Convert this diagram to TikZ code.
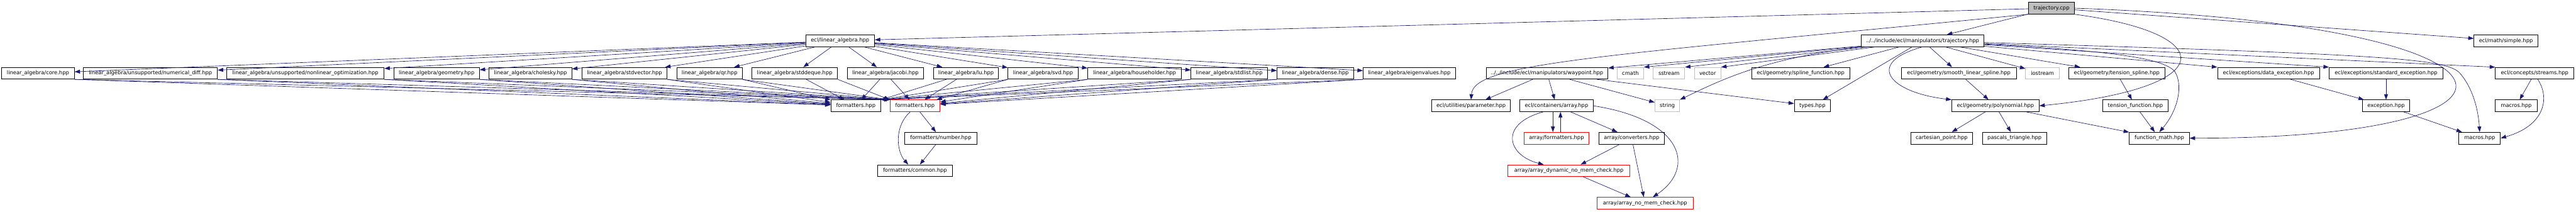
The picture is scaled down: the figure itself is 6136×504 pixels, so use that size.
\documentclass[tikz,border=0pt]{standalone}
\usepackage{fontspec}
\setmainfont{DejaVu Sans}
\usepackage{tikz}
\usetikzlibrary{arrows.meta}
\definecolor{edgeblue}{RGB}{25,25,112}
\definecolor{sysgray}{RGB}{191,191,191}
\tikzset{
  fb/.style  ={draw=black, line width=0.6pt, inner sep=0pt, minimum height=14pt,
               minimum width=#1*0.5pt, font=\fontsize{6.25pt}{7pt}\selectfont},
  fs/.style  ={fb=#1, draw=sysgray},
  fr/.style  ={fb=#1, draw=red},
  fc/.style  ={fb=#1, fill=sysgray},
  dep/.style ={draw=edgeblue, line width=0.5pt, -{Triangle[length=6.5pt,width=4.6pt]}},
}
\begin{document}
\begin{tikzpicture}[x=0.5pt,y=-0.5pt]
  \useasboundingbox (0,0) rectangle (6136,504);
  % row 0 and 1
  \node[fc=109] (tcpp) at (4886.5,19.5) {trajectory.cpp};
  \node[fb=164] (la) at (2001,97) {ecl/linear\_algebra.hpp};
  \node[fb=293] (trajh) at (4579.5,97) {../../include/ecl/manipulators/trajectory.hpp};
  \node[fb=152] (simple) at (5969,97) {ecl/math/simple.hpp};
  % row 2
  \node[fb=173] (core) at (90.5,174.5) {linear\_algebra/core.hpp};
  \node[fb=319] (numdiff) at (358.5,174.5) {linear\_algebra/unsupported/numerical\_diff.hpp};
  \node[fb=375] (nonlin) at (727.5,174.5) {linear\_algebra/unsupported/nonlinear\_optimization.hpp};
  \node[fb=204] (geom) at (1040,174.5) {linear\_algebra/geometry.hpp};
  \node[fb=197] (chol) at (1263.5,174.5) {linear\_algebra/cholesky.hpp};
  \node[fb=203] (stdvec) at (1487.5,174.5) {linear\_algebra/stdvector.hpp};
  \node[fb=156] (qr) at (1690,174.5) {linear\_algebra/qr.hpp};
  \node[fb=204] (stddeq) at (1893,174.5) {linear\_algebra/stddeque.hpp};
  \node[fb=182] (jacobi) at (2109,174.5) {linear\_algebra/jacobi.hpp};
  \node[fb=154] (lu) at (2301,174.5) {linear\_algebra/lu.hpp};
  \node[fb=167] (svd) at (2484.5,174.5) {linear\_algebra/svd.hpp};
  \node[fb=223] (house) at (2702.5,174.5) {linear\_algebra/householder.hpp};
  \node[fb=182] (stdlist) at (2928,174.5) {linear\_algebra/stdlist.hpp};
  \node[fb=182] (dense) at (3133,174.5) {linear\_algebra/dense.hpp};
  \node[fb=220] (eigen) at (3357,174.5) {linear\_algebra/eigenvalues.hpp};
  \node[fb=290] (waypt) at (3685,174.5) {../../include/ecl/manipulators/waypoint.hpp};
  \node[fs=63] (cmath) at (3883.5,174.5) {cmath};
  \node[fs=75] (sstream) at (3975.5,174.5) {sstream};
  \node[fs=63] (vector) at (4067.5,174.5) {vector};
  \node[fb=234] (splinef) at (4289,174.5) {ecl/geometry/spline\_function.hpp};
  \node[fb=274] (smooth) at (4666,174.5) {ecl/geometry/smooth\_linear\_spline.hpp};
  \node[fs=80] (iostream) at (4865,174.5) {iostream};
  \node[fb=230] (tension) at (5042,174.5) {ecl/geometry/tension\_spline.hpp};
  \node[fb=243] (dataex) at (5403.5,174.5) {ecl/exceptions/data\_exception.hpp};
  \node[fb=271] (stdex) at (5683.5,174.5) {ecl/exceptions/standard\_exception.hpp};
  \node[fb=187] (streams) at (6037.5,174.5) {ecl/concepts/streams.hpp};
  % row 3
  \node[fb=119] (fmtA) at (2038.5,252) {formatters.hpp};
  \node[fr=119] (fmtB) at (2179.5,252) {formatters.hpp};
  \node[fb=188] (param) at (3504,252) {ecl/utilities/parameter.hpp};
  \node[fb=175] (array) at (3707.5,252) {ecl/containers/array.hpp};
  \node[fs=59] (string) at (3971.5,252) {string};
  \node[fb=86] (types) at (4317,252) {types.hpp};
  \node[fb=208] (poly) at (4753,252) {ecl/geometry/polynomial.hpp};
  \node[fb=155] (tensfn) at (5086.5,252) {tension\_function.hpp};
  \node[fb=113] (except) at (5683.5,252) {exception.hpp};
  \node[fb=99] (macrosA) at (5993.5,252) {macros.hpp};
  % row 4
  \node[fb=172] (number) at (2241,329) {formatters/number.hpp};
  \node[fr=155] (afmt) at (3707.5,329) {array/formatters.hpp};
  \node[fb=155] (aconv) at (3886.5,329) {array/converters.hpp};
  \node[fb=148] (cart) at (4625,329) {cartesian\_point.hpp};
  \node[fb=153] (pascal) at (4798.5,329) {pascals\_triangle.hpp};
  \node[fb=143] (fmath) at (5143.5,329) {function\_math.hpp};
  \node[fb=99] (macrosB) at (5906.5,329) {macros.hpp};
  % row 5 and 6
  \node[fb=179] (common) at (2179.5,406.5) {formatters/common.hpp};
  \node[fr=290] (adyn) at (3737,406.5) {array/array\_dynamic\_no\_mem\_check.hpp};
  \node[fr=229] (anomem) at (3918.5,484) {array/array\_no\_mem\_check.hpp};

  % trajectory.cpp
  \draw[dep] (tcpp) -- (la);
  \draw[dep] (tcpp) -- (trajh);
  \draw[dep] (tcpp) -- (simple);
  \draw[dep] (tcpp.south west) .. controls (3800,135) and (3510,150) .. (param.north);
  \draw[dep] (tcpp.south east) .. controls (5290,80) and (5290,210) .. (poly.east);
  \draw[dep] (tcpp.east) .. controls (6100,60) and (6100,330) .. (fmath.east);
  % linear_algebra.hpp
  \draw[dep] (la) -- (core);
  \draw[dep] (la) -- (numdiff);
  \draw[dep] (la) -- (nonlin);
  \draw[dep] (la) -- (geom);
  \draw[dep] (la) -- (chol);
  \draw[dep] (la) -- (stdvec);
  \draw[dep] (la) -- (qr);
  \draw[dep] (la) -- (stddeq);
  \draw[dep] (la) -- (jacobi);
  \draw[dep] (la) -- (lu);
  \draw[dep] (la) -- (svd);
  \draw[dep] (la) -- (house);
  \draw[dep] (la) -- (stdlist);
  \draw[dep] (la) -- (dense);
  \draw[dep] (la) -- (eigen);
  % linear_algebra/* to the formatters
  \draw[dep] (core.south east) -- (fmtA);
  \draw[dep] (core.south east) -- (fmtB.north west);
  \draw[dep] (numdiff.south east) -- (fmtA);
  \draw[dep] (numdiff.south east) -- (fmtB.north west);
  \draw[dep] (nonlin.south east) -- (fmtA);
  \draw[dep] (nonlin.south east) -- (fmtB.north west);
  \draw[dep] (geom.south east) -- (fmtA);
  \draw[dep] (geom.south east) -- (fmtB.north west);
  \draw[dep] (chol.south east) -- (fmtA);
  \draw[dep] (chol.south east) -- (fmtB.north west);
  \draw[dep] (stdvec.south east) -- (fmtA);
  \draw[dep] (stdvec.south east) -- (fmtB.north west);
  \draw[dep] (qr.south east) -- (fmtA);
  \draw[dep] (qr.south east) -- (fmtB.north west);
  \draw[dep] (stddeq) -- (fmtA);
  \draw[dep] (stddeq.south east) -- (fmtB.north west);
  \draw[dep] (jacobi) -- (fmtA);
  \draw[dep] (jacobi) -- (fmtB);
  \draw[dep] (lu) -- (fmtA.north east);
  \draw[dep] (lu) -- (fmtB);
  \draw[dep] (svd.south west) -- (fmtA.north east);
  \draw[dep] (svd.south west) -- (fmtB);
  \draw[dep] (house.south west) -- (fmtA.north east);
  \draw[dep] (house.south west) -- (fmtB);
  \draw[dep] (stdlist.south west) -- (fmtA.north east);
  \draw[dep] (stdlist.south west) -- (fmtB);
  \draw[dep] (dense.south west) -- (fmtA.north east);
  \draw[dep] (dense.south west) -- (fmtB);
  \draw[dep] (eigen.south west) -- (fmtA.north east);
  \draw[dep] (eigen.south west) -- (fmtB);
  \draw[dep] (fmtB) -- (number);
  \draw[dep] ([xshift=-5.75pt]fmtB.south) .. controls (2130,300) and (2135,360) .. ([xshift=-8pt]common.north);
  \draw[dep] (number) -- (common);
  % trajectory.hpp
  \draw[dep] (trajh) -- (waypt);
  \draw[dep] (trajh) -- (cmath.north east);
  \draw[dep] (trajh) -- (sstream.north east);
  \draw[dep] (trajh) -- (vector.north east);
  \draw[dep] (trajh.south west) .. controls (4200,140) and (4100,190) .. (string.north east);
  \draw[dep] (trajh) -- (splinef);
  \draw[dep] (trajh) -- (types);
  \draw[dep] (trajh.south) .. controls (4440,150) and (4500,220) .. (poly.north west);
  \draw[dep] (trajh) -- (smooth);
  \draw[dep] (trajh) -- (iostream);
  \draw[dep] (trajh) -- (tension);
  \draw[dep] (trajh) -- (dataex.north west);
  \draw[dep] (trajh) -- (stdex.north west);
  \draw[dep] (trajh) -- (streams.north west);
  \draw[dep] (trajh) .. controls (5700,130) and (5830,140) .. (5860,175)
                     .. controls (5890,210) and (5903,260) .. (macrosB.north);
  \draw[dep] (trajh) .. controls (5000,120) and (5150,135) .. (5180,170)
                     .. controls (5200,200) and (5190,260) .. (fmath.north);
  % waypoint.hpp and array.hpp
  \draw[dep] (waypt) -- (param);
  \draw[dep] (waypt) -- (array);
  \draw[dep] (waypt) -- (string);
  \draw[dep] (waypt) -- (types);
  \draw[dep] ([xshift=-4.25pt]array.south) -- ([xshift=-4.25pt]afmt.north);
  \draw[dep] ([xshift=4.75pt]afmt.north) -- ([xshift=4.75pt]array.south);
  \draw[dep] (array) -- (aconv);
  \draw[dep] ([xshift=-16pt]array.south) .. controls (3570,295) and (3590,370) .. ([xshift=-30pt]adyn.north);
  \draw[dep] (array.east) .. controls (4010,285) and (4040,400) .. ([xshift=9.25pt]anomem.north);
  \draw[dep] (aconv) -- (adyn);
  \draw[dep] (aconv) -- (anomem);
  \draw[dep] (adyn) -- (anomem);
  % geometry and exceptions
  \draw[dep] (smooth) -- (poly);
  \draw[dep] (poly) -- (cart);
  \draw[dep] (poly) -- (pascal);
  \draw[dep] (poly) -- (fmath);
  \draw[dep] (tension) -- (tensfn);
  \draw[dep] (tensfn) -- (fmath);
  \draw[dep] (dataex) -- (except);
  \draw[dep] (stdex) -- (except);
  \draw[dep] (except) -- (macrosB);
  \draw[dep] (streams) -- (macrosA);
  \draw[dep] ([xshift=3.75pt]streams.south) .. controls (6075,235) and (6060,300) .. (macrosB.east);
\end{tikzpicture}
\end{document}
